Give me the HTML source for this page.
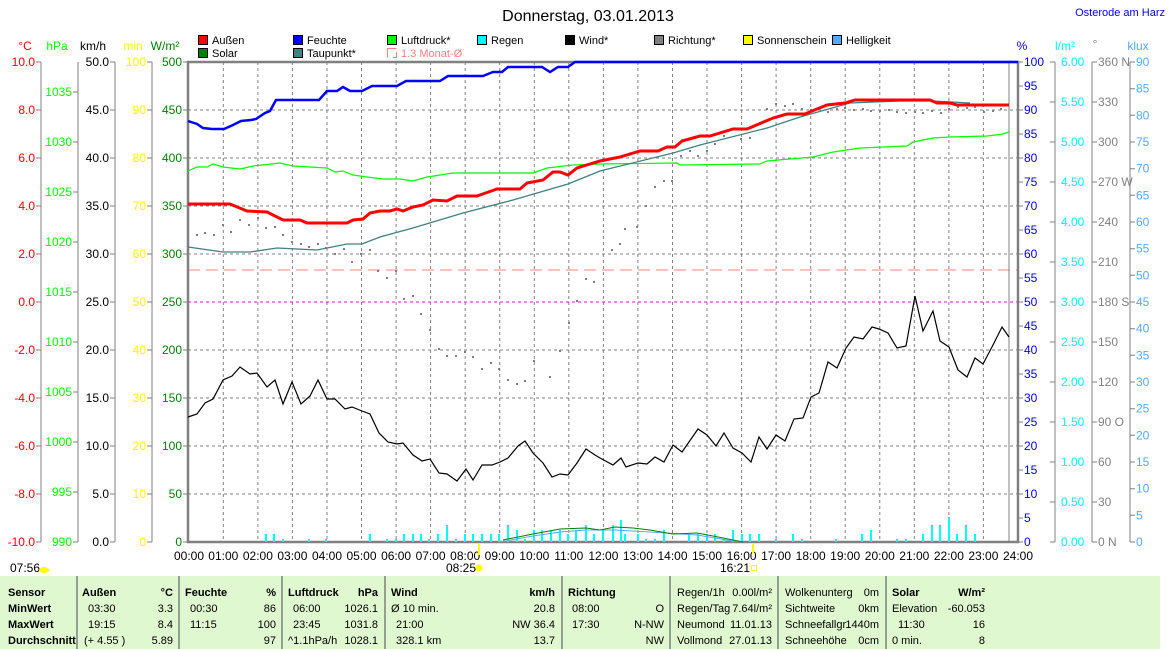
<!DOCTYPE html>
<html><head><meta charset="utf-8"><style>
body{margin:0;background:#fff;}
svg{display:block;font-family:"Liberation Sans",sans-serif;}
</style></head><body>
<svg width="1173" height="649" viewBox="0 0 1173 649" xmlns="http://www.w3.org/2000/svg">
<rect width="1173" height="649" fill="#fff"/>
<text x="588" y="21" font-size="16" text-anchor="middle">Donnerstag, 03.01.2013</text>
<text x="1165" y="16" font-size="11" fill="#0000ff" text-anchor="end">Osterode am Harz</text>
<g font-size="11">
<rect x="198.5" y="35.5" width="9" height="9" fill="#ff0000" stroke="#000"/><text x="212" y="44">Außen</text>
<rect x="293.5" y="35.5" width="9" height="9" fill="#0000ff" stroke="#000"/><text x="307" y="44">Feuchte</text>
<rect x="387.5" y="35.5" width="9" height="9" fill="#00ff00" stroke="#000"/><text x="401" y="44">Luftdruck*</text>
<rect x="477.5" y="35.5" width="9" height="9" fill="#00ffff" stroke="#000"/><text x="491" y="44">Regen</text>
<rect x="565.5" y="35.5" width="9" height="9" fill="#000" stroke="#000"/><text x="579" y="44">Wind*</text>
<rect x="654.5" y="35.5" width="9" height="9" fill="#808080" stroke="#000"/><text x="668" y="44">Richtung*</text>
<rect x="743.5" y="35.5" width="9" height="9" fill="#ffff00" stroke="#000"/><text x="757" y="44">Sonnenschein</text>
<rect x="832.5" y="35.5" width="9" height="9" fill="#55aaff" stroke="#000"/><text x="846" y="44">Helligkeit</text>
<rect x="198.5" y="48.5" width="9" height="9" fill="#008000" stroke="#000"/><text x="212" y="57">Solar</text>
<rect x="293.5" y="48.5" width="9" height="9" fill="#408080" stroke="#000"/><text x="307" y="57">Taupunkt*</text>
<path d="M387.5 57.5V48.5H396.5M396.5 52V57.5H393" fill="none" stroke="#ff8080"/><text x="401" y="57" fill="#ff8080">1.3 Monat-Ø</text>
</g>
<g font-size="12">
<text x="25" y="50" fill="#ff0000" text-anchor="middle">°C</text>
<text x="57" y="50" fill="#00ff00" text-anchor="middle">hPa</text>
<text x="93" y="50" text-anchor="middle">km/h</text>
<text x="133" y="50" fill="#ffff00" text-anchor="middle">min</text>
<text x="165" y="50" fill="#008000" text-anchor="middle">W/m²</text>
<text x="1022" y="50" fill="#0000ff" text-anchor="middle">%</text>
<text x="1065" y="50" fill="#00ffff" text-anchor="middle">l/m²</text>
<text x="1095" y="48" fill="#808080" text-anchor="middle">°</text>
<text x="1138" y="50" fill="#55aaff" text-anchor="middle">klux</text>
</g>
<g stroke="#808080" stroke-dasharray="3,3" stroke-width="1">
<path d="M223.3 62V542M257.9 62V542M292.4 62V542M327 62V542M361.5 62V542M396.1 62V542M430.6 62V542M465.2 62V542M499.7 62V542M534.3 62V542M568.8 62V542M603.4 62V542M637.9 62V542M672.5 62V542M707 62V542M741.6 62V542M776.1 62V542M810.7 62V542M845.2 62V542M879.8 62V542M914.3 62V542M948.9 62V542M983.4 62V542"/>
<path d="M188 110H1018M188 158H1018M188 206H1018M188 254H1018M188 350H1018M188 398H1018M188 446H1018M188 494H1018"/>
</g>
<path d="M188 302H1018" stroke="#ff00ff" stroke-dasharray="3,3"/>
<path d="M188 270H1018" stroke="#ff8080" stroke-dasharray="12,6"/>
<g stroke="#808080" fill="none">
<path d="M41 62V542M78 62V542M115 62V542M152 62V542M1055 62V542M1092 62V542M1130 62V542"/>
<path d="M1009 62V542"/>
<path d="M188 61V543M187 62H1019M187 542H1019M1018 61V543" stroke-width="2.5"/>
</g>
<g stroke="#808080">
<path d="M36 62H41M36 110H41M36 158H41M36 206H41M36 254H41M36 302H41M36 350H41M36 398H41M36 446H41M36 494H41M36 542H41"/>
<path d="M73 92H78M73 142H78M73 192H78M73 242H78M73 292H78M73 342H78M73 392H78M73 442H78M73 492H78M73 542H78"/>
<path d="M110 62H115M110 110H115M110 158H115M110 206H115M110 254H115M110 302H115M110 350H115M110 398H115M110 446H115M110 494H115M110 542H115"/>
<path d="M147 62H152M147 110H152M147 158H152M147 206H152M147 254H152M147 302H152M147 350H152M147 398H152M147 446H152M147 494H152M147 542H152"/>
<path d="M183 62H188M183 110H188M183 158H188M183 206H188M183 254H188M183 302H188M183 350H188M183 398H188M183 446H188M183 494H188M183 542H188"/>
<path d="M1018 62h5M1018 86h5M1018 110h5M1018 134h5M1018 158h5M1018 182h5M1018 206h5M1018 230h5M1018 254h5M1018 278h5M1018 302h5M1018 326h5M1018 350h5M1018 374h5M1018 398h5M1018 422h5M1018 446h5M1018 470h5M1018 494h5M1018 518h5M1018 542h5"/>
<path d="M1050 62h5M1050 102h5M1050 142h5M1050 182h5M1050 222h5M1050 262h5M1050 302h5M1050 342h5M1050 382h5M1050 422h5M1050 462h5M1050 502h5M1050 542h5M1092 62h5M1092 102h5M1092 142h5M1092 182h5M1092 222h5M1092 262h5M1092 302h5M1092 342h5M1092 382h5M1092 422h5M1092 462h5M1092 502h5M1092 542h5"/>
<path d="M1130 62h5M1130 88.7h5M1130 115.3h5M1130 142h5M1130 168.7h5M1130 195.3h5M1130 222h5M1130 248.7h5M1130 275.3h5M1130 302h5M1130 328.7h5M1130 355.3h5M1130 382h5M1130 408.7h5M1130 435.3h5M1130 462h5M1130 488.7h5M1130 515.3h5M1130 542h5"/>
</g>
<g font-size="12" text-anchor="end">
<g fill="#ff0000"><text x="35" y="66">10.0</text><text x="35" y="114">8.0</text><text x="35" y="162">6.0</text><text x="35" y="210">4.0</text><text x="35" y="258">2.0</text><text x="35" y="306">0.0</text><text x="35" y="354">-2.0</text><text x="35" y="402">-4.0</text><text x="35" y="450">-6.0</text><text x="35" y="498">-8.0</text><text x="35" y="546">-10.0</text></g>
<g fill="#00ff00"><text x="72" y="96">1035</text><text x="72" y="146">1030</text><text x="72" y="196">1025</text><text x="72" y="246">1020</text><text x="72" y="296">1015</text><text x="72" y="346">1010</text><text x="72" y="396">1005</text><text x="72" y="446">1000</text><text x="72" y="496">995</text><text x="72" y="546">990</text></g>
<g fill="#000"><text x="109" y="66">50.0</text><text x="109" y="114">45.0</text><text x="109" y="162">40.0</text><text x="109" y="210">35.0</text><text x="109" y="258">30.0</text><text x="109" y="306">25.0</text><text x="109" y="354">20.0</text><text x="109" y="402">15.0</text><text x="109" y="450">10.0</text><text x="109" y="498">5.0</text><text x="109" y="546">0.0</text></g>
<g fill="#ffff00"><text x="146" y="66">100</text><text x="146" y="114">90</text><text x="146" y="162">80</text><text x="146" y="210">70</text><text x="146" y="258">60</text><text x="146" y="306">50</text><text x="146" y="354">40</text><text x="146" y="402">30</text><text x="146" y="450">20</text><text x="146" y="498">10</text><text x="146" y="546">0</text></g>
<g fill="#008000"><text x="182" y="66">500</text><text x="182" y="114">450</text><text x="182" y="162">400</text><text x="182" y="210">350</text><text x="182" y="258">300</text><text x="182" y="306">250</text><text x="182" y="354">200</text><text x="182" y="402">150</text><text x="182" y="450">100</text><text x="182" y="498">50</text><text x="182" y="546">0</text></g>
</g>
<g font-size="12">
<g fill="#0000ff"><text x="1024" y="66">100</text><text x="1024" y="90">95</text><text x="1024" y="114">90</text><text x="1024" y="138">85</text><text x="1024" y="162">80</text><text x="1024" y="186">75</text><text x="1024" y="210">70</text><text x="1024" y="234">65</text><text x="1024" y="258">60</text><text x="1024" y="282">55</text><text x="1024" y="306">50</text><text x="1024" y="330">45</text><text x="1024" y="354">40</text><text x="1024" y="378">35</text><text x="1024" y="402">30</text><text x="1024" y="426">25</text><text x="1024" y="450">20</text><text x="1024" y="474">15</text><text x="1024" y="498">10</text><text x="1024" y="522">5</text><text x="1024" y="546">0</text></g>
<g fill="#00ffff"><text x="1061" y="66">6.00</text><text x="1061" y="106">5.50</text><text x="1061" y="146">5.00</text><text x="1061" y="186">4.50</text><text x="1061" y="226">4.00</text><text x="1061" y="266">3.50</text><text x="1061" y="306">3.00</text><text x="1061" y="346">2.50</text><text x="1061" y="386">2.00</text><text x="1061" y="426">1.50</text><text x="1061" y="466">1.00</text><text x="1061" y="506">0.50</text><text x="1061" y="546">0.00</text></g>
<g fill="#808080"><text x="1098" y="66">360 N</text><text x="1098" y="106">330</text><text x="1098" y="146">300</text><text x="1098" y="186">270 W</text><text x="1098" y="226">240</text><text x="1098" y="266">210</text><text x="1098" y="306">180 S</text><text x="1098" y="346">150</text><text x="1098" y="386">120</text><text x="1098" y="426">90  O</text><text x="1098" y="466">60</text><text x="1098" y="506">30</text><text x="1098" y="546">0   N</text></g>
<g fill="#55aaff"><text x="1136" y="66">90</text><text x="1136" y="92.7">85</text><text x="1136" y="119.3">80</text><text x="1136" y="146">75</text><text x="1136" y="172.7">70</text><text x="1136" y="199.3">65</text><text x="1136" y="226">60</text><text x="1136" y="252.7">55</text><text x="1136" y="279.3">50</text><text x="1136" y="306">45</text><text x="1136" y="332.7">40</text><text x="1136" y="359.3">35</text><text x="1136" y="386">30</text><text x="1136" y="412.7">25</text><text x="1136" y="439.3">20</text><text x="1136" y="466">15</text><text x="1136" y="492.7">10</text><text x="1136" y="519.3">5</text><text x="1136" y="546">0</text></g>
</g>
<g font-size="12" text-anchor="middle">
<text x="189" y="560">00:00</text><text x="223.3" y="560">01:00</text><text x="257.9" y="560">02:00</text><text x="292.4" y="560">03:00</text><text x="327" y="560">04:00</text><text x="361.5" y="560">05:00</text><text x="396.1" y="560">06:00</text><text x="430.6" y="560">07:00</text><text x="465.2" y="560">08:00</text><text x="499.7" y="560">09:00</text><text x="534.3" y="560">10:00</text><text x="568.8" y="560">11:00</text><text x="603.4" y="560">12:00</text><text x="637.9" y="560">13:00</text><text x="672.5" y="560">14:00</text><text x="707" y="560">15:00</text><text x="741.6" y="560">16:00</text><text x="776.1" y="560">17:00</text><text x="810.7" y="560">18:00</text><text x="845.2" y="560">19:00</text><text x="879.8" y="560">20:00</text><text x="914.3" y="560">21:00</text><text x="948.9" y="560">22:00</text><text x="983.4" y="560">23:00</text><text x="1018" y="560">24:00</text>
</g>
<g font-size="12">
<text x="10" y="572">07:56</text><ellipse cx="44" cy="570" rx="5" ry="3" fill="#ffff00"/>
<text x="446" y="572">08:25</text><circle cx="479" cy="568" r="3.5" fill="#ffff00"/>
<text x="720" y="572">16:21</text><rect x="751.5" y="565.5" width="5" height="5" fill="none" stroke="#ffff00"/>
</g>
<path d="M479 543V555M753 543V553" stroke="#ffff00" stroke-width="2"/>
<g stroke="#00ffff" stroke-width="2">
<path d="M266 542v-8M274 542v-8M283 542v-3M309 542v-3M326 542v-3M370 542v-8M387 542v-3M396 542v-3M404 542v-8M413 542v-8M421 542v-8M429 542v-3M438 542v-8M447 542v-17M456 542v-3M465 542v-8M473 542v-8M482 542v-8M491 542v-8M499 542v-8M508 542v-17M517 542v-12M525 542v-3M534 542v-12M542 542v-12M551 542v-12M560 542v-12M568 542v-8M576 542v-12M586 542v-17M594 542v-8"/>
<path d="M603 542v-12M613 542v-17M621 542v-22M625 542v-8M638 542v-8M646 542v-3M655 542v-3M664 542v-12M689 542v-8M698 542v-8M707 542v-8M715 542v-8M724 542v-3M733 542v-12M742 542v-8M750 542v-8M759 542v-8M776 542v-3M793 542v-8M802 542v-3M836 542v-3M862 542v-8M871 542v-12M897 542v-3M906 542v-3M923 542v-8M932 542v-17M940 542v-17M949 542v-25M957 542v-8M966 542v-17M975 542v-8"/>
</g>
<polyline fill="none" stroke="#55aaff" stroke-width="1" points="500,542 533,536 560,532 586,530 615,530 650,532 697,535 733,541 743,542"/>
<polyline fill="none" stroke="#008000" stroke-width="1" points="503,540 533,534 560,529 586,528 600,530 615,527 633,528 650,530 673,534 697,533 713,536 733,540 743,542"/>
<g fill="#808080">
<rect x="196" y="234" width="2" height="2"/><rect x="204" y="232" width="2" height="2"/><rect x="213" y="234" width="2" height="2"/><rect x="222" y="224" width="2" height="2"/><rect x="230" y="231" width="2" height="2"/><rect x="239" y="219" width="2" height="2"/><rect x="248" y="224" width="2" height="2"/><rect x="257" y="217" width="2" height="2"/><rect x="265" y="227" width="2" height="2"/><rect x="274" y="226" width="2" height="2"/><rect x="282" y="234" width="2" height="2"/><rect x="291" y="241" width="2" height="2"/><rect x="300" y="243" width="2" height="2"/><rect x="308" y="246" width="2" height="2"/><rect x="317" y="243" width="2" height="2"/><rect x="325" y="247" width="2" height="2"/><rect x="334" y="253" width="2" height="2"/><rect x="343" y="248" width="2" height="2"/><rect x="351" y="261" width="2" height="2"/><rect x="360" y="253" width="2" height="2"/><rect x="369" y="249" width="2" height="2"/><rect x="377" y="270" width="2" height="2"/><rect x="386" y="277" width="2" height="2"/><rect x="395" y="270" width="2" height="2"/><rect x="403" y="298" width="2" height="2"/><rect x="412" y="295" width="2" height="2"/><rect x="420" y="313" width="2" height="2"/><rect x="429" y="329" width="2" height="2"/><rect x="438" y="348" width="2" height="2"/><rect x="446" y="355" width="2" height="2"/><rect x="455" y="355" width="2" height="2"/><rect x="464" y="351" width="2" height="2"/><rect x="472" y="356" width="2" height="2"/><rect x="481" y="368" width="2" height="2"/><rect x="490" y="362" width="2" height="2"/><rect x="498" y="368" width="2" height="2"/><rect x="507" y="379" width="2" height="2"/><rect x="516" y="383" width="2" height="2"/><rect x="524" y="380" width="2" height="2"/><rect x="533" y="360" width="2" height="2"/><rect x="549" y="376" width="2" height="2"/><rect x="559" y="350" width="2" height="2"/><rect x="568" y="322" width="2" height="2"/><rect x="576" y="300" width="2" height="2"/><rect x="585" y="278" width="2" height="2"/><rect x="593" y="281" width="2" height="2"/><rect x="611" y="249" width="2" height="2"/><rect x="619" y="243" width="2" height="2"/><rect x="624" y="228" width="2" height="2"/><rect x="636" y="226" width="2" height="2"/><rect x="645" y="205" width="2" height="2"/><rect x="654" y="186" width="2" height="2"/><rect x="663" y="180" width="2" height="2"/><rect x="671" y="180" width="2" height="2"/><rect x="680" y="155" width="2" height="2"/><rect x="689" y="150" width="2" height="2"/><rect x="697" y="155" width="2" height="2"/><rect x="706" y="150" width="2" height="2"/><rect x="714" y="143" width="2" height="2"/><rect x="723" y="135" width="2" height="2"/><rect x="740" y="138" width="2" height="2"/><rect x="749" y="137" width="2" height="2"/><rect x="766" y="108" width="2" height="2"/><rect x="775" y="103" width="2" height="2"/><rect x="784" y="105" width="2" height="2"/><rect x="792" y="103" width="2" height="2"/><rect x="801" y="108" width="2" height="2"/><rect x="810" y="109" width="2" height="2"/><rect x="818" y="107" width="2" height="2"/><rect x="827" y="111" width="2" height="2"/><rect x="836" y="108" width="2" height="2"/><rect x="844" y="107" width="2" height="2"/><rect x="853" y="109" width="2" height="2"/><rect x="862" y="108" width="2" height="2"/><rect x="870" y="110" width="2" height="2"/><rect x="879" y="110" width="2" height="2"/><rect x="888" y="109" width="2" height="2"/><rect x="896" y="111" width="2" height="2"/><rect x="905" y="112" width="2" height="2"/><rect x="914" y="111" width="2" height="2"/><rect x="922" y="112" width="2" height="2"/><rect x="931" y="110" width="2" height="2"/><rect x="940" y="112" width="2" height="2"/><rect x="948" y="108" width="2" height="2"/><rect x="957" y="106" width="2" height="2"/><rect x="966" y="107" width="2" height="2"/><rect x="974" y="106" width="2" height="2"/><rect x="983" y="111" width="2" height="2"/><rect x="992" y="110" width="2" height="2"/><rect x="1000" y="108" width="2" height="2"/>
</g>
<polyline fill="none" stroke="#00ff00" stroke-width="1.2" points="188,171 197,167 207,167 213,164 223,167 240,169 253,166 280,163 293,166 327,168 335,172 343,171 353,175 367,177 383,179 400,179 413,181 427,177 453,173 533,173 547,168 573,165 600,164 677,163 680,165 760,164 767,161 813,157 833,152 860,148 907,146 913,142 933,138 950,137 987,136 1003,134 1009,132"/>
<polyline fill="none" stroke="#408080" stroke-width="1.3" points="188,247 223,252 250,252 277,248 297,249 317,250 347,244 362,244 380,237 413,228 463,213 513,200 568,184 600,171 673,153 700,145 767,128 800,117 850,103 900,101 933,101 970,103"/>
<polyline fill="none" stroke="#0000ff" stroke-width="2.5" points="188,121 197,124 203,128 212,129 224,129 233,125 241,121 251,120 256,119 265,113 270,111 276,100 319,100 327,91 337,91 343,87 350,91 362,91 372,86 397,86 406,81 440,81 448,76 483,76 493,72 502,72 508,67 542,67 550,72 558,67 568,67 575,62 1018,62"/>
<polyline fill="none" stroke="#ff0000" stroke-width="3" points="188,204 230,204 247,211 267,212 283,220 300,220 307,223 347,223 353,220 363,219 370,213 380,211 390,211 397,209 403,211 413,207 423,205 433,200 447,201 457,196 477,196 497,189 520,189 527,183 543,180 553,172 560,172 568,175 577,168 600,161 620,157 640,151 658,151 667,147 675,147 682,141 700,136 710,136 733,129 747,129 773,118 787,114 805,114 812,111 827,105 845,103 855,100 930,100 937,103 950,103 957,105 1009,105"/>
<polyline fill="none" stroke="#000" stroke-width="1.2" points="188,417 197,414 205,403 213,399 223,380 232,376 240,367 250,374 257,373 267,387 275,380 283,404 292,382 301,404 310,396 318,380 327,399 335,399 345,409 352,407 362,411 370,414 379,433 388,442 397,444 403,443 413,455 422,461 430,459 439,473 447,474 457,481 466,469 473,480 482,465 492,465 500,462 508,458 518,446 525,441 533,453 543,463 552,477 560,474 568,475 577,463 586,449 595,455 600,458 613,465 621,458 626,467 638,463 647,464 655,457 664,462 673,445 682,452 698,429 707,435 716,446 724,433 733,448 742,453 751,462 759,437 767,449 776,435 785,441 794,419 803,418 811,397 819,393 828,362 837,368 846,348 854,337 863,339 872,327 879,329 888,333 897,348 906,346 915,296 923,331 933,311 940,341 949,347 958,370 967,377 975,358 983,364 993,345 1002,327 1009,337"/>
<rect x="0" y="576" width="1160" height="73" fill="#e0f8d0"/>
<g stroke="#808080" stroke-width="1.5"><path d="M77 576V649M179 576V649M282 576V649M385 576V649M562 576V649M670 576V649M778 576V649M886 576V649"/></g>
<g font-size="11">
<g font-weight="bold"><text x="8" y="596">Sensor</text><text x="8" y="612">MinWert</text><text x="8" y="628">MaxWert</text><text x="8" y="644">Durchschnitt</text>
<text x="82" y="596">Außen</text><text x="173" y="596" text-anchor="end">°C</text>
<text x="185" y="596">Feuchte</text><text x="276" y="596" text-anchor="end">%</text>
<text x="288" y="596">Luftdruck</text><text x="378" y="596" text-anchor="end">hPa</text>
<text x="391" y="596">Wind</text><text x="555" y="596" text-anchor="end">km/h</text>
<text x="568" y="596">Richtung</text>
<text x="892" y="596">Solar</text><text x="985" y="596" text-anchor="end">W/m²</text></g>
<text x="88" y="612">03:30</text><text x="173" y="612" text-anchor="end">3.3</text>
<text x="88" y="628">19:15</text><text x="173" y="628" text-anchor="end">8.4</text>
<text x="84" y="644">(+ 4.55 )</text><text x="173" y="644" text-anchor="end">5.89</text>
<text x="190" y="612">00:30</text><text x="276" y="612" text-anchor="end">86</text>
<text x="190" y="628">11:15</text><text x="276" y="628" text-anchor="end">100</text>
<text x="276" y="644" text-anchor="end">97</text>
<text x="293" y="612">06:00</text><text x="378" y="612" text-anchor="end">1026.1</text>
<text x="293" y="628">23:45</text><text x="378" y="628" text-anchor="end">1031.8</text>
<text x="288" y="644">^1.1hPa/h</text><text x="378" y="644" text-anchor="end">1028.1</text>
<text x="391" y="612">Ø 10 min.</text><text x="555" y="612" text-anchor="end">20.8</text>
<text x="396" y="628">21:00</text><text x="555" y="628" text-anchor="end">NW 36.4</text>
<text x="396" y="644">328.1 km</text><text x="555" y="644" text-anchor="end">13.7</text>
<text x="572" y="612">08:00</text><text x="664" y="612" text-anchor="end">O</text>
<text x="572" y="628">17:30</text><text x="664" y="628" text-anchor="end">N-NW</text>
<text x="664" y="644" text-anchor="end">NW</text>
<text x="677" y="596">Regen/1h</text><text x="772" y="596" text-anchor="end">0.00l/m²</text>
<text x="677" y="612">Regen/Tag</text><text x="772" y="612" text-anchor="end">7.64l/m²</text>
<text x="677" y="628">Neumond</text><text x="772" y="628" text-anchor="end">11.01.13</text>
<text x="677" y="644">Vollmond</text><text x="772" y="644" text-anchor="end">27.01.13</text>
<text x="785" y="596">Wolkenunterg</text><text x="879" y="596" text-anchor="end">0m</text>
<text x="785" y="612">Sichtweite</text><text x="879" y="612" text-anchor="end">0km</text>
<text x="785" y="628">Schneefallgr</text><text x="879" y="628" text-anchor="end">1440m</text>
<text x="785" y="644">Schneehöhe</text><text x="879" y="644" text-anchor="end">0cm</text>
<text x="892" y="612">Elevation</text><text x="985" y="612" text-anchor="end">-60.053</text>
<text x="898" y="628">11:30</text><text x="985" y="628" text-anchor="end">16</text>
<text x="892" y="644">0 min.</text><text x="985" y="644" text-anchor="end">8</text>
</g>
</svg>
</body></html>
